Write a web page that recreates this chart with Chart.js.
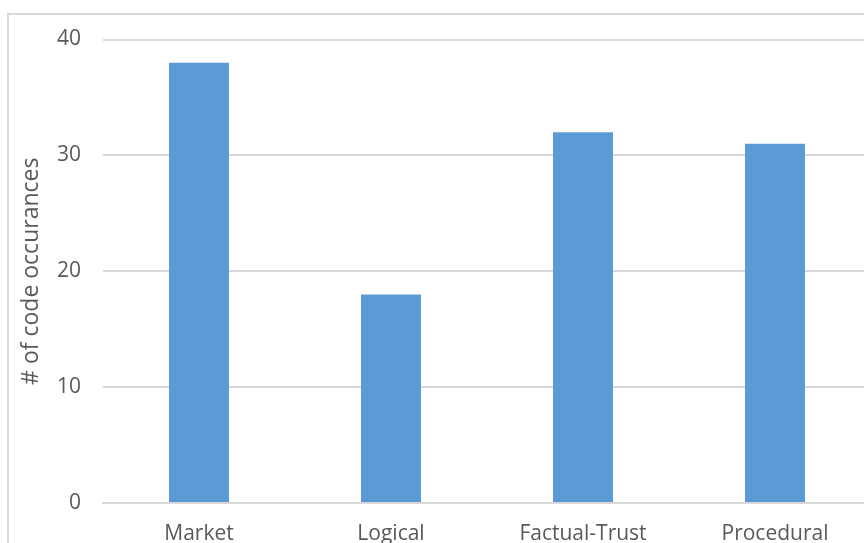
<!DOCTYPE html>
<html>
<head>
<meta charset="utf-8">
<script src="https://cdn.jsdelivr.net/npm/chart.js@4"></script>
<style>
  html, body { margin: 0; padding: 0; background: #fff; overflow: hidden; }
  #frame {
    position: absolute;
    left: 7px;
    top: 13px;
    border: 2px solid #d9d9d9;
    width: 862px;
    height: 560px;
  }
  #chartCanvas { display: block; }
</style>
</head>
<body>
<div id="frame"><canvas id="chartCanvas" width="862" height="560"></canvas></div>
<script>
  const categories = ["Market", "Logical", "Factual-Trust", "Procedural"];
  const occurrences = [38, 18, 32, 31];
  const yTicks = [0, 10, 20, 30, 40];

  const textColor = "#595959";
  const gridColor = "#d9d9d9";
  const fontFamily = "'Open Sans', sans-serif";

  const ctx = document.getElementById("chartCanvas").getContext("2d");

  new Chart(ctx, {
    type: "bar",
    data: {
      labels: categories,
      datasets: [
        {
          label: "# of code occurances",
          data: occurrences,
          backgroundColor: "#5b9bd5",
          categoryPercentage: 1,
          barPercentage: 0.3125,
        },
      ],
    },
    options: {
      responsive: false,
      animation: false,
      layout: { padding: { top: 24.5, right: 0, bottom: 0, left: 0 } },
      plugins: { legend: { display: false }, tooltip: { enabled: false } },
      scales: {
        x: {
          grid: { display: false, drawTicks: false },
          border: { color: gridColor, width: 2 },
          ticks: {
            color: textColor,
            font: { family: fontFamily, size: 21 },
            padding: 18,
          },
          afterFit: (scale) => {
            scale.height = 72;
          },
        },
        y: {
          min: 0,
          max: 40,
          afterBuildTicks: (scale) => {
            scale.ticks = yTicks.map((v) => ({ value: v }));
          },
          grid: { color: gridColor, lineWidth: 2, drawTicks: false },
          border: { display: false },
          ticks: {
            color: textColor,
            font: { family: fontFamily, size: 21 },
            padding: 22,
          },
          title: {
            display: true,
            text: "# of code occurances",
            color: textColor,
            font: { family: fontFamily, size: 23 },
            padding: { top: 9, bottom: 0 },
          },
          afterFit: (scale) => {
            // fixed axis width; tick labels may hang over the chart edges
            scale.width = 94;
            scale.paddingTop = 0;
            scale.paddingBottom = 0;
          },
        },
      },
    },
  });
</script>
</body>
</html>
